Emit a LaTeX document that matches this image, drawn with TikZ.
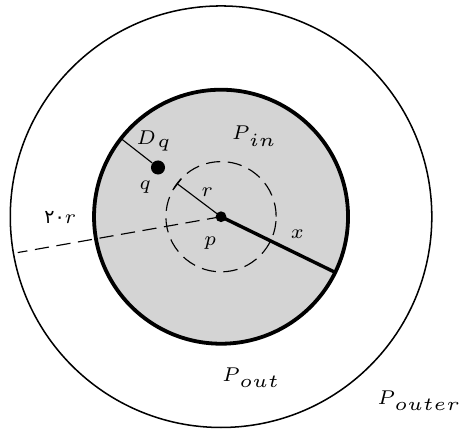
\documentclass[tikz,border=0pt]{standalone}
\usepackage{fontspec}
\usepackage{tikz}
\usetikzlibrary{arrows.meta,positioning,calc}
\newfontfamily\arabicfont[Script=Arabic]{DejaVu Sans}
\font\labit=cmmi7 at 10.5pt
\font\subit=cmmi5 at 9.8pt
\newcommand{\lsub}[3][3.2pt]{{\labit #2}\kern1.2pt\raisebox{-#1}{\subit #3}}

\begin{document}
\begin{tikzpicture}[
  region/.style={draw,line width=2pt,fill=black!17},
  rim/.style={draw,thick},
  dashline/.style={dash pattern=on 7.5pt off 4pt,semithick},
  seg/.style={semithick},
  dot/.style={circle,fill=black,inner sep=0pt},
  lab/.style={inner sep=1pt,font=\labit},
  blab/.style={inner sep=0pt,anchor=base west}]
\useasboundingbox (-4.09,-3.92) rectangle (4.44,4.01);
% regions
\draw[rim] (0,0) circle (3.9);
\draw[region] (0,0) circle (2.35);
\draw[dashline] (0,0) circle (1.02);
\coordinate (p) at (0,0);
\coordinate (dqend) at (142:2.35);
\coordinate (rend) at (143:1.02);
\coordinate (xend) at (-26:2.35);
\coordinate (farend) at (190:3.82);
\node[dot,minimum size=0.26cm] (q) at (142:1.48) {};
% segments
\draw[seg] (dqend) -- (q);
\draw[seg,{Bar[width=2.4mm]}-] (rend) -- (p);
\draw[line width=1.8pt] (p) -- (xend);
\draw[dashline] (p) -- (farend);
\node[dot,minimum size=0.2cm] (pdot) at (p) {};
% labels
\node[blab] (dqlab) at (-1.57,1.33) {\lsub[1.5pt]{D}{q}};
\node[blab] (pin) at (0.2,1.42) {\lsub{P}{in}};
\node[lab] (qlab) at (-1.41,0.54) {q};
\node[lab] (rlab) at (-0.26,0.46) {r};
\node[lab] (plab) at (-0.2,-0.48) {p};
\node[lab] (xlab) at (1.41,-0.33) {x};
\node[lab] (twenty) at (-2.98,-0.02) {{\arabicfont ۲۰}r};
\node[blab] (pout) at (0.02,-3.05) {\lsub{P}{out}};
\node[blab] (pouter) at (2.89,-3.48) {\lsub{P}{outer}};
\end{tikzpicture}
\end{document}
